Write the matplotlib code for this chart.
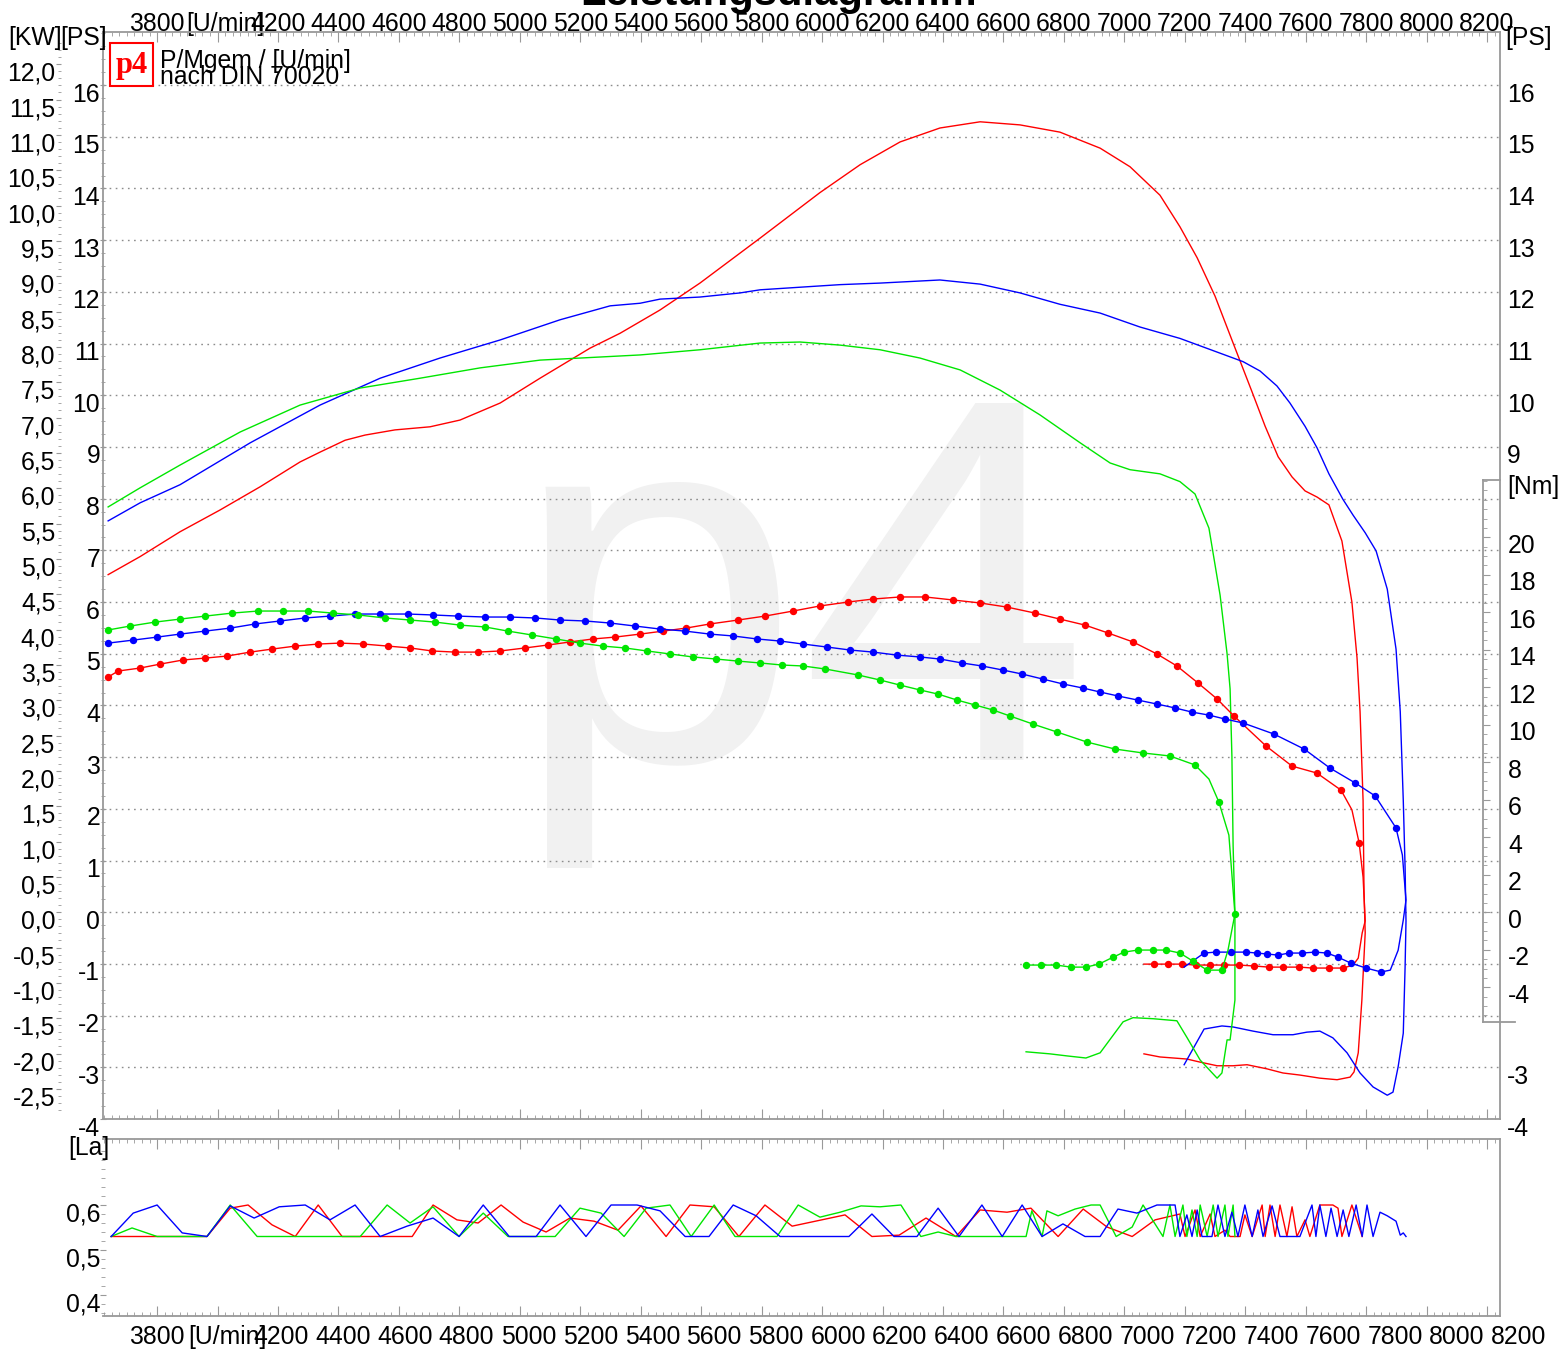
import numpy as np
import matplotlib.pyplot as plt
from matplotlib.ticker import FixedLocator
from matplotlib.transforms import ScaledTranslation, blended_transform_factory
from matplotlib.patches import Rectangle

plt.rcParams['font.family'] = ['Liberation Sans', 'DejaVu Sans']
plt.rcParams['font.size'] = 17.8

# Leistung [PS] ueber Drehzahl [U/min] (Hochlauf, dann Auslauf)
red_rpm = [3638, 3744, 3876, 4008, 4141, 4273, 4339, 4422, 4488, 4587, 4703, 4802, 4935, 5067,
           5232, 5332, 5464, 5596, 5795, 5993, 6126, 6258, 6390, 6523, 6655, 6787, 6920, 7019,
           7118, 7184, 7241, 7300, 7360, 7423, 7466, 7509, 7555, 7598, 7638, 7677, 7720, 7753,
           7770, 7780, 7790, 7793, 7797, 7786, 7774, 7760, 7747, 7704, 7647, 7581, 7525, 7472,
           7406, 7360, 7307, 7251, 7207, 7118, 7065]
red_ps = [6.53, 6.88, 7.36, 7.78, 8.23, 8.71, 8.90, 9.13, 9.23, 9.33, 9.39, 9.52, 9.85, 10.33,
          10.91, 11.20, 11.65, 12.17, 13.04, 13.92, 14.46, 14.90, 15.17, 15.29, 15.23, 15.09, 14.78, 14.42,
          13.87, 13.26, 12.66, 11.92, 11.01, 10.06, 9.40, 8.81, 8.42, 8.15, 8.03, 7.88, 7.18, 6.00,
          4.92, 3.88, 2.16, 0.43, -0.40, -1.70, -2.72, -3.09, -3.19, -3.24, -3.21, -3.15, -3.11, -3.03,
          -2.95, -2.97, -2.97, -2.90, -2.84, -2.80, -2.74]

blue_rpm = [3638, 3744, 3876, 4108, 4339, 4538, 4736, 4935, 5133, 5299, 5398, 5464, 5596, 5729,
            5795, 5927, 6060, 6192, 6324, 6390, 6523, 6655, 6787, 6920, 7052, 7184, 7277, 7393,
            7449, 7505, 7548, 7598, 7638, 7677, 7723, 7757, 7797, 7833, 7870, 7899, 7913, 7923,
            7929, 7932, 7929, 7923, 7906, 7889, 7870, 7823, 7780, 7737, 7690, 7647, 7604, 7558,
            7492, 7426, 7360, 7323, 7264, 7198]
blue_ps = [7.57, 7.92, 8.27, 9.08, 9.81, 10.33, 10.72, 11.07, 11.46, 11.73, 11.78, 11.86, 11.90, 11.98,
           12.04, 12.09, 12.14, 12.17, 12.21, 12.23, 12.15, 11.98, 11.76, 11.59, 11.32, 11.10, 10.90, 10.65,
           10.47, 10.18, 9.85, 9.40, 8.98, 8.48, 7.99, 7.68, 7.34, 6.99, 6.25, 5.09, 3.88, 2.16,
           0.86, -0.17, -1.06, -2.34, -2.99, -3.48, -3.54, -3.38, -3.11, -2.72, -2.43, -2.30, -2.32, -2.37,
           -2.37, -2.30, -2.22, -2.20, -2.26, -2.95]

green_rpm = [3638, 3744, 3876, 4075, 4273, 4472, 4670, 4869, 5067, 5266, 5398, 5596, 5795, 5927,
             6060, 6192, 6324, 6457, 6589, 6721, 6854, 6953, 7019, 7118, 7184, 7234, 7280, 7317,
             7340, 7350, 7356, 7360, 7366, 7366, 7350, 7340, 7323, 7307, 7251, 7207, 7174, 7095,
             7029, 6996, 6920, 6873, 6811, 6754, 6675]
green_ps = [7.84, 8.21, 8.65, 9.29, 9.81, 10.14, 10.33, 10.53, 10.68, 10.74, 10.78, 10.88, 11.01, 11.03,
            10.97, 10.88, 10.72, 10.49, 10.10, 9.62, 9.08, 8.69, 8.56, 8.48, 8.33, 8.09, 7.43, 6.13,
            5.00, 4.32, 3.02, 1.28, -0.01, -1.70, -2.47, -2.47, -3.11, -3.21, -2.86, -2.42, -2.10, -2.06,
            -2.04, -2.12, -2.72, -2.82, -2.78, -2.74, -2.70]

# Drehmoment [Nm]; *_gap = Stuetzpunkte ohne Marker
red_t_rpm = [3638, 3671, 3744, 3810, 3886, 3959, 4032, 4108, 4180, 4257, 4333, 4405, 4482, 4564,
             4637, 4710, 4786, 4862, 4935, 5017, 5094, 5166, 5242, 5315, 5398, 5474, 5550, 5629,
             5722, 5811, 5904, 5993, 6086, 6169, 6258, 6341, 6433, 6523, 6612, 6705, 6787, 6870,
             6946, 7029, 7108, 7174, 7244, 7307, 7363, 7469, 7555, 7637, 7717, 7753, 7777, 7790,
             7797, 7787, 7774, 7757, 7724, 7677, 7624, 7578, 7525, 7479, 7429, 7380, 7330, 7284,
             7237, 7191, 7145, 7098, 7065]
red_t_nm = [12.55, 12.87, 13.03, 13.24, 13.46, 13.56, 13.67, 13.88, 14.04, 14.20, 14.31, 14.36, 14.31, 14.20,
            14.10, 13.94, 13.88, 13.88, 13.94, 14.10, 14.26, 14.42, 14.58, 14.68, 14.84, 15.00, 15.16, 15.38,
            15.59, 15.80, 16.07, 16.34, 16.55, 16.71, 16.82, 16.82, 16.66, 16.50, 16.28, 15.96, 15.64, 15.32,
            14.90, 14.42, 13.78, 13.14, 12.23, 11.38, 10.47, 8.87, 7.80, 7.43, 6.52, 5.47, 3.70, 1.88,
            -0.46, -1.10, -2.44, -2.81, -2.97, -2.97, -2.97, -2.92, -2.92, -2.92, -2.86, -2.81, -2.81, -2.81,
            -2.81, -2.76, -2.76, -2.76, -2.76]
red_t_gap = [53, 55, 56, 57, 58, 59, 74]

blue_t_rpm = [3638, 3721, 3800, 3876, 3959, 4042, 4124, 4207, 4290, 4372, 4455, 4538, 4630, 4713,
              4796, 4885, 4968, 5051, 5133, 5216, 5299, 5381, 5464, 5547, 5629, 5706, 5785, 5861,
              5937, 6016, 6093, 6169, 6248, 6324, 6390, 6463, 6529, 6599, 6662, 6731, 6797, 6864,
              6920, 6979, 7045, 7108, 7168, 7224, 7280, 7333, 7393, 7495, 7595, 7680, 7763, 7830,
              7899, 7920, 7932, 7923, 7906, 7880, 7850, 7800, 7750, 7707, 7671, 7631, 7588, 7545,
              7509, 7472, 7439, 7403, 7353, 7303, 7264, 7198]
blue_t_nm = [14.36, 14.52, 14.68, 14.84, 15.00, 15.16, 15.38, 15.54, 15.70, 15.80, 15.91, 15.91, 15.91, 15.86,
             15.80, 15.75, 15.75, 15.70, 15.59, 15.54, 15.43, 15.27, 15.11, 15.00, 14.84, 14.74, 14.58, 14.47,
             14.31, 14.15, 13.99, 13.88, 13.72, 13.62, 13.51, 13.30, 13.14, 12.92, 12.71, 12.44, 12.18, 11.96,
             11.75, 11.54, 11.32, 11.11, 10.90, 10.68, 10.52, 10.31, 10.10, 9.51, 8.71, 7.70, 6.91, 6.21,
             4.50, 3.06, 0.66, -0.41, -2.02, -3.08, -3.18, -2.97, -2.71, -2.39, -2.17, -2.12, -2.17, -2.17,
             -2.28, -2.22, -2.17, -2.12, -2.12, -2.12, -2.17, -2.92]
blue_t_gap = [57, 58, 59, 60, 61, 77]

green_t_rpm = [3638, 3711, 3793, 3876, 3959, 4048, 4134, 4217, 4300, 4382, 4465, 4554, 4637, 4720,
               4802, 4885, 4961, 5041, 5120, 5199, 5275, 5348, 5421, 5497, 5573, 5649, 5722, 5795,
               5868, 5937, 6010, 6119, 6192, 6258, 6324, 6384, 6447, 6506, 6566, 6622, 6698, 6777,
               6877, 6969, 7062, 7151, 7234, 7280, 7313, 7346, 7366, 7343, 7323, 7274, 7227, 7184,
               7138, 7095, 7045, 6999, 6963, 6916, 6873, 6824, 6774, 6725, 6675]
green_t_nm = [15.06, 15.27, 15.48, 15.64, 15.80, 15.96, 16.07, 16.07, 16.07, 15.96, 15.86, 15.70, 15.59, 15.48,
              15.32, 15.22, 15.00, 14.79, 14.58, 14.36, 14.20, 14.10, 13.94, 13.78, 13.62, 13.51, 13.40, 13.30,
              13.19, 13.14, 12.98, 12.66, 12.39, 12.12, 11.86, 11.64, 11.32, 11.06, 10.79, 10.47, 10.04, 9.62,
              9.08, 8.71, 8.50, 8.34, 7.86, 7.11, 5.88, 4.12, -0.09, -2.02, -3.08, -3.08, -2.60, -2.17,
              -2.01, -2.01, -2.01, -2.12, -2.39, -2.76, -2.92, -2.92, -2.81, -2.81, -2.81]
green_t_gap = [47, 49, 51]

# Lambda [La]
red_la_rpm = [3648, 3965, 4042, 4101, 4180, 4257, 4333, 4412, 4644, 4713, 4792, 4862, 4938, 5011,
              5087, 5166, 5246, 5325, 5401, 5484, 5563, 5643, 5725, 5811, 5901, 6076, 6165, 6255,
              6344, 6443, 6523, 6612, 6691, 6781, 6864, 6943, 7026, 7102, 7184, 7201, 7234, 7251,
              7284, 7300, 7333, 7350, 7383, 7399, 7423, 7456, 7466, 7482, 7499, 7515, 7538, 7555,
              7571, 7598, 7614, 7647, 7690, 7707, 7720, 7753, 7787]
red_la = [0.53, 0.53, 0.593, 0.60, 0.556, 0.53, 0.60, 0.53, 0.53, 0.60, 0.567, 0.56, 0.60, 0.562,
          0.54, 0.571, 0.564, 0.544, 0.598, 0.53, 0.60, 0.596, 0.53, 0.60, 0.553, 0.578, 0.53, 0.533,
          0.571, 0.53, 0.589, 0.584, 0.593, 0.53, 0.591, 0.551, 0.53, 0.567, 0.58, 0.53, 0.589, 0.53,
          0.58, 0.53, 0.544, 0.53, 0.53, 0.578, 0.53, 0.60, 0.53, 0.60, 0.53, 0.60, 0.53, 0.596,
          0.53, 0.567, 0.53, 0.60, 0.60, 0.593, 0.53, 0.60, 0.53]

blue_la_rpm = [3648, 3721, 3800, 3883, 3965, 4042, 4121, 4204, 4290, 4372, 4455, 4538, 4627, 4713,
               4799, 4879, 4965, 5054, 5133, 5219, 5302, 5388, 5464, 5547, 5626, 5706, 5782, 5861,
               6089, 6165, 6238, 6314, 6384, 6453, 6529, 6596, 6662, 6728, 6797, 6870, 6920, 6979,
               7042, 7108, 7168, 7184, 7207, 7224, 7241, 7257, 7290, 7310, 7333, 7356, 7376, 7399,
               7423, 7442, 7459, 7489, 7515, 7581, 7621, 7634, 7647, 7667, 7684, 7704, 7724, 7743,
               7767, 7787, 7803, 7823, 7846, 7870, 7899, 7913, 7923, 7932]
blue_la = [0.53, 0.582, 0.60, 0.538, 0.53, 0.598, 0.571, 0.596, 0.60, 0.567, 0.60, 0.53, 0.553, 0.571,
           0.53, 0.60, 0.53, 0.53, 0.60, 0.53, 0.60, 0.60, 0.587, 0.53, 0.53, 0.60, 0.576, 0.53,
           0.53, 0.58, 0.53, 0.53, 0.593, 0.53, 0.60, 0.53, 0.60, 0.53, 0.558, 0.53, 0.53, 0.591,
           0.582, 0.60, 0.60, 0.53, 0.578, 0.53, 0.589, 0.53, 0.53, 0.60, 0.53, 0.584, 0.53, 0.60,
           0.53, 0.589, 0.53, 0.598, 0.53, 0.53, 0.60, 0.53, 0.60, 0.53, 0.593, 0.53, 0.589, 0.53,
           0.60, 0.53, 0.60, 0.53, 0.584, 0.576, 0.564, 0.533, 0.538, 0.53]

green_la_rpm = [3648, 3717, 3800, 3965, 4042, 4131, 4472, 4561, 4637, 4713, 4799, 4879, 4961, 5041,
                5117, 5199, 5269, 5345, 5418, 5497, 5567, 5643, 5712, 5851, 5921, 5993, 6060, 6129,
                6192, 6261, 6327, 6384, 6443, 6675, 6694, 6728, 6744, 6781, 6837, 6890, 6920, 6973,
                7026, 7062, 7128, 7151, 7168, 7194, 7207, 7224, 7241, 7251, 7274, 7294, 7310, 7333,
                7343, 7360, 7366]
green_la = [0.53, 0.549, 0.53, 0.53, 0.60, 0.53, 0.53, 0.60, 0.56, 0.596, 0.53, 0.582, 0.53, 0.53,
            0.53, 0.593, 0.582, 0.53, 0.593, 0.60, 0.53, 0.60, 0.53, 0.53, 0.60, 0.573, 0.584, 0.598,
            0.596, 0.60, 0.53, 0.54, 0.53, 0.53, 0.587, 0.53, 0.587, 0.576, 0.591, 0.60, 0.60, 0.53,
            0.551, 0.60, 0.53, 0.60, 0.53, 0.60, 0.53, 0.589, 0.53, 0.60, 0.53, 0.60, 0.53, 0.60,
            0.53, 0.60, 0.53]

rpm_ticks = list(range(3800, 8201, 200))
rpm_labels = ['[U/min]' if r == 4000 else str(r) for r in rpm_ticks]
ps_ticks = list(range(-4, 17))
kw_ticks = [k / 2 for k in range(-5, 25)]
nm_ticks = list(range(-4, 21, 2))
la_ticks = [0.4, 0.5, 0.6]

RED, BLUE, GREEN = '#ff0000', '#0000ff', '#00e600'
GREY = '#999999'
W, H = 1567, 1355
PS_PER_KW = 1.367


def box(x0, y0, x1, y1):
    return [x0 / W, 1 - y1 / H, (x1 - x0) / W, (y1 - y0) / H]


def komma(v):
    return f'{v:.1f}'.replace('.', ',')


fig = plt.figure(figsize=(W / 100, H / 100), dpi=100)
ax = fig.add_axes(box(103, 32, 1500, 1119))
axl = fig.add_axes(box(103, 1139, 1500, 1316))

ax.set_xlim(3621, 8243)
ax.set_ylim(-4, 17.027)
axl.set_xlim(3621, 8243)
axl.set_ylim(0.3533, 0.7467)

# Wasserzeichen
ax.text(800 / W, 1 - 760 / H, 'p4', transform=fig.transFigure, fontsize=374,
        color='#f1f1f1', ha='center', va='baseline', zorder=0)

for a in (ax, axl):
    for s in a.spines.values():
        s.set_color(GREY)
        s.set_linewidth(1.3)
    a.set_xticks(rpm_ticks)
    a.xaxis.set_minor_locator(FixedLocator(np.arange(3625, 8243, 25)))
    a.tick_params(axis='x', which='both', direction='in', top=True, bottom=True, color=GREY)
    a.tick_params(axis='x', which='major', length=7.2)
    a.tick_params(axis='x', which='minor', length=3)

ax.set_xticklabels(rpm_labels)
ax.tick_params(axis='x', labeltop=True, labelbottom=False, pad=-2.7)
axl.set_xticklabels(rpm_labels)
axl.tick_params(axis='x', labeltop=False, labelbottom=True, pad=6.5)

# PS-Achse links / rechts
ax.set_yticks(ps_ticks)
ax.set_yticklabels([str(p) for p in ps_ticks])
ax.yaxis.set_minor_locator(FixedLocator(np.arange(-4, 17.01, 0.25)))
ax.tick_params(axis='y', which='both', direction='inout', left=True, right=True,
               labelleft=True, labelright=False, color=GREY, pad=0)
ax.tick_params(axis='y', which='major', length=4.3)
ax.tick_params(axis='y', which='minor', length=2.2)
ax.grid(axis='y', which='major', color='#8c8c8c', linestyle=(0, (1.2, 3.2)), linewidth=1.0)

secr = ax.secondary_yaxis('right')
secr.set_yticks([-4, -3] + list(range(9, 17)))
secr.set_yticklabels([str(p) for p in [-4, -3] + list(range(9, 17))])
secr.tick_params(length=0, pad=5)
for s in secr.spines.values():
    s.set_visible(False)

# KW-Achse
kax = ax.secondary_yaxis((61 - 103) / 1397,
                         functions=(lambda p: p / PS_PER_KW, lambda k: k * PS_PER_KW))
kax.set_yticks(kw_ticks)
kax.set_yticklabels([komma(k) for k in kw_ticks])
kax.yaxis.set_minor_locator(FixedLocator(np.arange(-2.8, 12.35, 0.1)))
kax.tick_params(which='major', length=3.6, color=GREY, pad=0.5)
kax.tick_params(which='minor', length=2.5, color=GREY)
for s in kax.spines.values():
    s.set_visible(False)

# Nm-Achse
ax3 = ax.twinx()
ax3.set_ylim(-11.02, 46.95)
for k, s in ax3.spines.items():
    s.set_visible(k == 'right')
ax3.spines['right'].set_color(GREY)
ax3.spines['right'].set_linewidth(1.3)
ax3.spines['right'].set_position(('axes', (1483 - 103) / 1397))
ax3.spines['right'].set_bounds(-5.85, 23.06)
ax3.set_yticks(nm_ticks)
ax3.set_yticklabels([str(n) for n in nm_ticks])
ax3.yaxis.set_minor_locator(FixedLocator(np.arange(-5.5, 23.01, 0.5)))
ax3.tick_params(axis='y', which='both', direction='out', color=GREY)
ax3.tick_params(axis='y', which='major', length=5, pad=13)
ax3.tick_params(axis='y', which='minor', length=3)
tr = blended_transform_factory(ax3.transAxes, ax3.transData)
ax3.plot([(1483 - 103) / 1397, 1.0], [23.06, 23.06], transform=tr, color=GREY, lw=1.3, clip_on=False)
ax3.plot([(1483 - 103) / 1397, 1.011], [-5.85, -5.85], transform=tr, color=GREY, lw=1.3, clip_on=False)

# Lambda-Achse
axl.spines['left'].set_visible(False)
axl.set_yticks(la_ticks)
axl.set_yticklabels([komma(v) for v in la_ticks])
axl.yaxis.set_minor_locator(FixedLocator(np.arange(0.36, 0.74, 0.02)))
axl.tick_params(axis='y', which='both', direction='inout', left=True, right=False, color=GREY, pad=0)
axl.tick_params(axis='y', which='major', length=4.3)
axl.tick_params(axis='y', which='minor', length=2.2)

# Kurven
for rpm, ps, c in [(red_rpm, red_ps, RED), (blue_rpm, blue_ps, BLUE), (green_rpm, green_ps, GREEN)]:
    ax.plot(rpm, ps, color=c, lw=1.0)

for rpm, nm, gap, c in [(red_t_rpm, red_t_nm, red_t_gap, RED),
                        (blue_t_rpm, blue_t_nm, blue_t_gap, BLUE),
                        (green_t_rpm, green_t_nm, green_t_gap, GREEN)]:
    marks = [i for i in range(len(rpm)) if i not in gap]
    ax3.plot(rpm, nm, color=c, lw=1.0, marker='o', ms=4.3, markevery=marks)

for rpm, la, c in [(red_la_rpm, red_la, RED), (green_la_rpm, green_la, GREEN), (blue_la_rpm, blue_la, BLUE)]:
    axl.plot(rpm, la, color=c, lw=1.0)

# Texte
fig.text(779 / W, 1 - 5 / H, 'Leistungsdiagramm', ha='center', va='baseline',
         fontsize=30, fontweight='bold')
fig.text(8 / W, 1 - 38 / H, '[KW]', ha='left', va='center')
fig.text(60 / W, 1 - 38 / H, '[PS]', ha='left', va='center')
fig.text(1505 / W, 1 - 38 / H, '[PS]', ha='left', va='center')
fig.text(1507 / W, 1 - 487 / H, '[Nm]', ha='left', va='center')
fig.text(68 / W, 1 - 1148 / H, '[La]', ha='left', va='center')
fig.patches.append(Rectangle((110 / W, 1 - 86 / H), 43 / W, 43 / H, transform=fig.transFigure,
                             facecolor='white', edgecolor=RED, lw=1.5, zorder=5))
fig.text(131.5 / W, 1 - 66 / H, 'p4', ha='center', va='center', color=RED, fontsize=22,
         fontweight='bold', family=['Liberation Serif', 'DejaVu Serif'], zorder=6)
fig.text(160 / W, 1 - 61 / H, 'P/Mgem / [U/min]', ha='left', va='center')
fig.text(160 / W, 1 - 77 / H, 'nach DIN 70020', ha='left', va='center')

fig.canvas.draw()


def shift(labels, dx=0.0, dy=0.0):
    for lab in labels:
        lab.set_transform(lab.get_transform() + ScaledTranslation(dx / 100, dy / 100, fig.dpi_scale_trans))


for a in (ax, secr, kax, axl):
    shift(a.get_yticklabels(), dy=-7)
shift(ax3.get_yticklabels(), dy=-6)
for i, lab in enumerate(ax.get_xticklabels()):
    shift([lab], dx=8 if i == 1 else 0)
for i, lab in enumerate(axl.get_xticklabels()):
    shift([lab], dx=i * 1.45 + (8 if i == 1 else 0))

fig.savefig('out.png', dpi=100)
